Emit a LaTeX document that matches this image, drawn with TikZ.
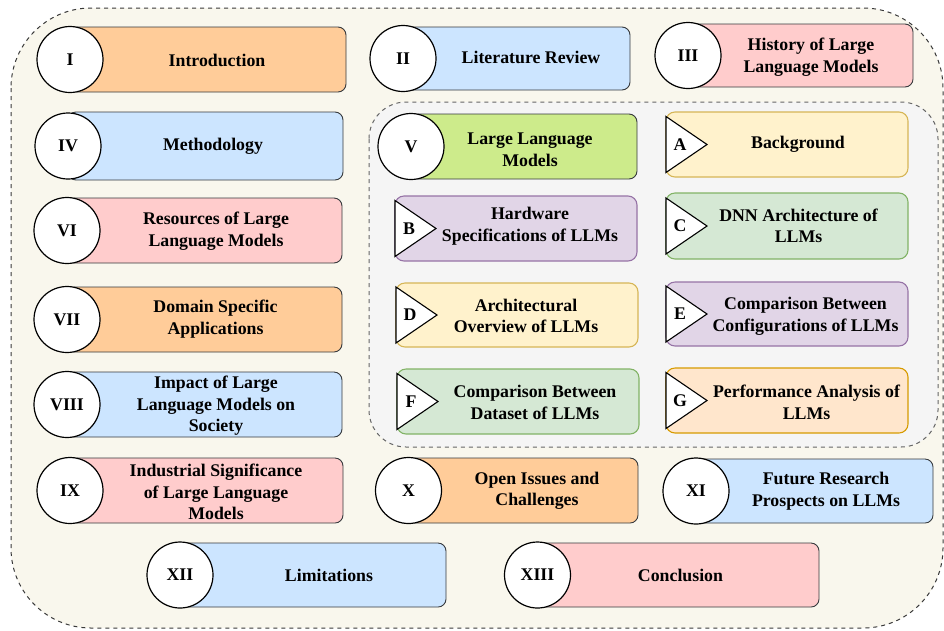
\documentclass[tikz,border=0pt]{standalone}
\usepackage{fontspec}
\setmainfont{Liberation Serif}

% palette
\definecolor{outerfill}{HTML}{F9F7ED}
\definecolor{outerline}{HTML}{3A3A3A}
\definecolor{innerfill}{HTML}{F5F5F5}
\definecolor{innerline}{HTML}{666666}
\definecolor{secline}{HTML}{36393D}
\definecolor{orangeF}{HTML}{FFCC99}
\definecolor{blueF}{HTML}{CCE5FF}
\definecolor{pinkF}{HTML}{FFCCCC}
\definecolor{greenF}{HTML}{CDEB8B}
\definecolor{yellowF}{HTML}{FFF2CC}
\definecolor{yellowD}{HTML}{D6B656}
\definecolor{purpleF}{HTML}{E1D5E7}
\definecolor{purpleD}{HTML}{9673A6}
\definecolor{mintF}{HTML}{D5E8D4}
\definecolor{mintD}{HTML}{82B366}
\definecolor{peachF}{HTML}{FFE6CC}
\definecolor{peachD}{HTML}{D79B00}

\tikzset{
  secbox/.style={draw=secline, line width=0.9pt, rounded corners=8pt,
    anchor=north west, inner sep=0pt, outer sep=0pt},
  numcirc/.style={circle, draw=black, line width=1.2pt, fill=white,
    minimum size=66pt, inner sep=0pt,
    font=\bfseries\fontsize{17.8}{21.5}\selectfont},
  lbl/.style={align=center, inner sep=0pt,
    font=\bfseries\fontsize{17.8}{21.5}\selectfont},
  subbox/.style={line width=1.1pt, rounded corners=9pt,
    anchor=north west, inner sep=0pt, outer sep=0pt},
  pointer/.style={draw=black, line width=1.1pt, fill=white, line join=miter},
  letter/.style={inner sep=0pt, font=\bfseries\fontsize{17.8}{21.5}\selectfont},
  groupframe/.style={line width=1pt, dash pattern=on 4pt off 4pt},
}

% numbered section: name, numeral, fill, circle x, top, right, bottom
\newcommand{\llmsec}[7]{%
  \node[secbox, fill=#3, minimum width={#6pt-#4pt},
        minimum height={#7pt-#5pt}] (#1box) at (#4,#5) {};
  \node[numcirc] (#1num) at ({#4},{(#5+#7)/2}) {#2};
}

% lettered subsection: name, letter, fill, border, left, top, right, bottom
\newcommand{\llmsub}[8]{%
  \node[subbox, fill=#3, draw=#4, minimum width={#7pt-#5pt},
        minimum height={#8pt-#6pt}] (#1box) at (#5,#6) {};
  \filldraw[pointer] ({#5},{(#6+#8)/2-28}) -- ({#5+41},{(#6+#8)/2})
     -- ({#5},{(#6+#8)/2+28}) -- cycle;
  \node[letter] (#1tag) at ({#5+14},{(#6+#8)/2}) {#2};
}

\begin{document}
\begin{tikzpicture}[x=1pt, y=-1pt]
\path[use as bounding box] (0,0) rectangle (944,630);

% outer and inner frames
\draw[groupframe, draw=outerline, fill=outerfill, rounded corners=80pt]
  (11,8) rectangle (943,628);
\draw[groupframe, draw=innerline, fill=innerfill, rounded corners=37pt]
  (369,102) rectangle (938,447);

% numbered sections
\llmsec{s1}{I}{orangeF}{70}{27}{346}{92}
\node[lbl] (s1t) at (217,60) {Introduction};
\llmsec{s2}{II}{blueF}{403}{27}{630}{90}
\node[lbl] (s2t) at (531,57) {Literature Review};
\llmsec{s3}{III}{pinkF}{688}{24}{913}{87}
\node[lbl] (s3t) at (811,57) {History of Large\\Language Models};
\llmsec{s4}{IV}{blueF}{68}{112}{343}{180}
\node[lbl] (s4t) at (213,146) {Methodology};
\llmsec{s5}{V}{greenF}{411}{114}{637}{179}
\node[lbl] (s5t) at (530,150) {Large Language\\Models};
\llmsec{s6}{VI}{pinkF}{67}{198}{342}{263}
\node[lbl] (s6t) at (216,231) {Resources of Large\\Language Models};
\llmsec{s7}{VII}{orangeF}{67}{287}{342}{352}
\node[lbl] (s7t) at (215.5,319) {Domain Specific\\Applications};
\llmsec{s8}{VIII}{blueF}{67}{372}{342}{437}
\node[lbl] (s8t) at (216,406) {Impact of Large\\Language Models on\\Society};
\llmsec{s9}{IX}{pinkF}{70}{458}{343}{523}
\node[lbl] (s9t) at (216,492) {Industrial Significance\\of Large Language\\Models};
\llmsec{s10}{X}{orangeF}{408.5}{458}{638}{523}
\node[lbl] (s10t) at (537,491) {Open Issues and\\Challenges};
\llmsec{s11}{XI}{blueF}{696}{459}{933}{523}
\node[lbl] (s11t) at (826,491) {Future Research\\Prospects on LLMs};
\llmsec{s12}{XII}{blueF}{180}{543}{446}{607}
\node[lbl] (s12t) at (329,575) {Limitations};
\llmsec{s13}{XIII}{pinkF}{537.5}{543}{819}{607}
\node[lbl] (s13t) at (680.5,575) {Conclusion};

% subsections of section V
\llmsub{a}{A}{yellowF}{yellowD}{666}{112}{908}{177}
\node[lbl] (at) at (798,144) {Background};
\llmsub{b}{B}{purpleF}{purpleD}{395}{196}{637}{261}
\node[lbl] (bt) at (530,226) {Hardware\\Specifications of LLMs};
\llmsub{c}{C}{mintF}{mintD}{666}{193}{908}{259}
\node[lbl] (ct) at (798.5,226) {DNN Architecture of\\LLMs};
\llmsub{d}{D}{yellowF}{yellowD}{396}{283}{638}{347}
\node[lbl] (dt) at (526,316) {Architectural\\Overview of LLMs};
\llmsub{e}{E}{purpleF}{purpleD}{666}{282}{908}{346}
\node[lbl] (et) at (805.5,316.5) {Comparison Between\\Configurations of LLMs};
\llmsub{f}{F}{mintF}{mintD}{397}{369}{639}{434}
\node[lbl] (ft) at (535,402.5) {Comparison Between\\Dataset of LLMs};
\llmsub{g}{G}{peachF}{peachD}{666}{368}{908}{433}
\node[lbl] (gt) at (806.5,402.5) {Performance Analysis of\\LLMs};
\end{tikzpicture}
\end{document}
